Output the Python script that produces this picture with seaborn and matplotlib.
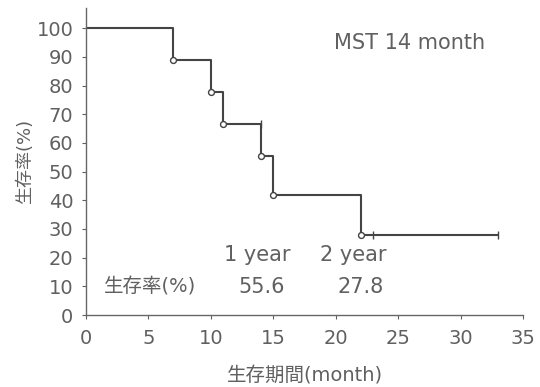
import numpy as np
import matplotlib
matplotlib.use("Agg")
import matplotlib.pyplot as plt
import seaborn as sns
import pandas as pd

# Kaplan-Meier curve
step_time = [0, 7, 10, 11, 14, 15, 22, 33]
step_surv = [100, 88.9, 77.8, 66.7, 55.6, 41.7, 27.8, 27.8]
event_time = [7, 10, 11, 14, 15, 22]
event_surv = [88.9, 77.8, 66.7, 55.6, 41.7, 27.8]
censor_time = [14, 23, 33]
censor_surv = [66.7, 27.8, 27.8]

x_ticks = [0, 5, 10, 15, 20, 25, 30, 35]
y_ticks = [0, 10, 20, 30, 40, 50, 60, 70, 80, 90, 100]

sns.set_style("ticks")
plt.rcParams['font.family'] = ['DejaVu Sans', 'Noto Sans CJK JP']
txt = "#606060"
ink = "#444444"

df = pd.DataFrame({"t": step_time, "s": step_surv})
ev = pd.DataFrame({"t": event_time, "s": event_surv})
ce = pd.DataFrame({"t": censor_time, "s": censor_surv})

fig = plt.figure(figsize=(5.4, 3.87), dpi=100)
ax = fig.add_axes([0.159, 0.186, 0.81, 0.793])
sns.lineplot(data=df, x="t", y="s", drawstyle="steps-post", color=ink, linewidth=1.5, ax=ax)
sns.scatterplot(data=ev, x="t", y="s", marker="o", s=18, facecolor="white",
                edgecolor=ink, linewidth=1.0, zorder=3, ax=ax)
sns.scatterplot(data=ce, x="t", y="s", marker="|", s=40, color=ink, linewidth=1.0, zorder=3, ax=ax)

ax.set_xlim(0, 35)
ax.set_ylim(0, 107)
ax.set_xticks(x_ticks)
ax.set_yticks(y_ticks)
ax.tick_params(labelsize=14, colors=txt, length=3, width=0.8)
ax.tick_params(axis="x", pad=7)
ax.tick_params(axis="y", pad=6)
for s in ["top", "right"]:
    ax.spines[s].set_visible(False)
for s in ["left", "bottom"]:
    ax.spines[s].set_color("#666666")
    ax.spines[s].set_linewidth(1.0)
ax.spines["bottom"].set_bounds(0, 35)

ax.set_xlabel("生存期間(month)", fontsize=14, color=txt, labelpad=13)
ax.set_ylabel("生存率(%)", fontsize=13, color=txt, labelpad=2)

ax.text(25.9, 95, "MST 14 month", fontsize=15, color=txt, ha="center", va="center")
ax.text(13.7, 20.9, "1 year", fontsize=15, color=txt, ha="center", va="center")
ax.text(21.4, 20.9, "2 year", fontsize=15, color=txt, ha="center", va="center")
ax.text(5.1, 9.8, "生存率(%)", fontsize=14, color=txt, ha="center", va="center")
ax.text(14.1, 9.8, "55.6", fontsize=15, color=txt, ha="center", va="center")
ax.text(22.0, 9.8, "27.8", fontsize=15, color=txt, ha="center", va="center")

fig.savefig("out.png", dpi=100)
